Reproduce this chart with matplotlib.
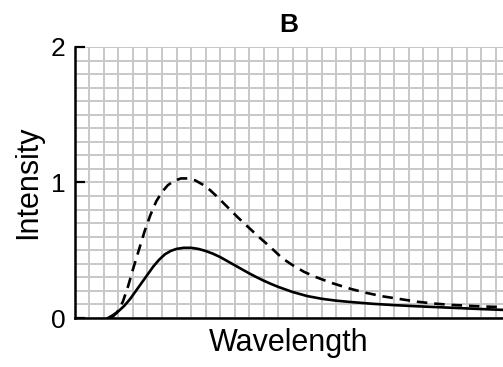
import matplotlib.pyplot as plt
import numpy as np

plt.rcParams['font.family'] = ['Liberation Sans', 'DejaVu Sans']

# wavelength in grid units (one grid column = 1)
solid_x = [2.28, 2.6, 3.0, 3.4, 3.8, 4.2, 4.6, 5.0, 5.4, 5.8, 6.2, 6.6, 7.0, 7.5, 8.0, 8.5, 9.0, 9.5, 10.0, 10.5,
           11.0, 11.5, 12.0, 12.5, 13.0, 13.5, 14.0, 15.0, 16.0, 17.0, 18.0, 19.0, 20.5, 22.0, 23.5, 25.0, 26.5, 28.0, 29.5]
solid_y = [0.0, 0.02, 0.05, 0.09, 0.14, 0.2, 0.26, 0.32, 0.38, 0.43, 0.47, 0.495, 0.51, 0.518, 0.518, 0.51, 0.495, 0.475, 0.45, 0.42,
           0.39, 0.36, 0.33, 0.302, 0.276, 0.252, 0.23, 0.192, 0.162, 0.142, 0.128, 0.118, 0.105, 0.095, 0.087, 0.08, 0.073, 0.066, 0.06]

dash_x = [2.5, 2.9, 3.3, 3.65, 4.0, 4.4, 4.8, 5.2, 5.6, 6.0, 6.4, 6.8, 7.3, 7.8, 8.3, 8.8, 9.3, 9.8, 10.5, 11.2,
          11.9, 12.6, 13.4, 14.3, 15.0, 15.8, 16.7, 17.8, 19.0, 20.1, 21.2, 22.4, 23.6, 24.7, 25.9, 27.7, 29.5]
dash_y = [0.0, 0.04, 0.12, 0.23, 0.36, 0.5, 0.64, 0.76, 0.86, 0.93, 0.98, 1.01, 1.03, 1.03, 1.015, 0.985, 0.945, 0.895, 0.82, 0.745,
          0.675, 0.605, 0.53, 0.44, 0.39, 0.34, 0.298, 0.255, 0.215, 0.185, 0.16, 0.14, 0.12, 0.107, 0.097, 0.087, 0.08]

fig = plt.figure(figsize=(5.03, 3.67), dpi=100)
ax = fig.add_axes([0.149, 0.1335, 0.851, 0.7385])

ax.plot(solid_x, solid_y, color='black', lw=1.9, zorder=3, solid_joinstyle='round')
ax.plot(dash_x, dash_y, color='black', lw=1.9, ls=(0, (4, 2.6)), zorder=3)

ax.set_xlim(0, 29.5)
ax.set_ylim(0, 2)

ax.set_xticks(np.arange(0, 30, 1))
ax.set_yticks([0, 1, 2])
ax.set_yticks(np.arange(0, 2.01, 0.1), minor=True)
ax.tick_params(axis='x', length=0, labelbottom=False)
ax.tick_params(axis='y', which='major', direction='in', length=7, width=1.6, labelsize=19, pad=7)
ax.tick_params(axis='y', which='minor', length=0)
ax.grid(True, which='both', color='#c8c8c8', lw=1.4, zorder=0)
ax.set_axisbelow(True)

for s in ['top', 'right']:
    ax.spines[s].set_visible(False)
for s in ['left', 'bottom']:
    ax.spines[s].set_linewidth(1.8)
    ax.spines[s].set_zorder(4)

ax.set_title('B', fontsize=19, fontweight='bold', pad=11)
ax.set_xlabel('Wavelength', fontsize=22, labelpad=7)
ax.set_ylabel('Intensity', fontsize=22, labelpad=5)

fig.savefig('out.png', dpi=100)
